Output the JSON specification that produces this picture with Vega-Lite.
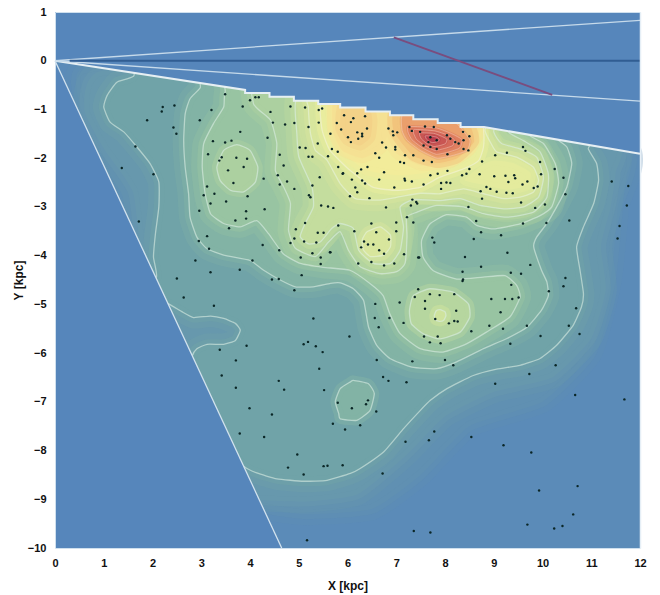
{"$schema":"https://vega.github.io/schema/vega-lite/v6.json","width":585,"height":536,"autosize":{"type":"none"},"padding":{"left":55,"top":12,"right":20,"bottom":47},"background":"#ffffff",
"config":{"view":{"stroke":null},"style":{"wide":{"strokeWidth":22,"strokeOpacity":0.3,"interpolate":"cardinal-closed","tension":0.5},"soft":{"strokeWidth":10,"strokeOpacity":0.5,"interpolate":"cardinal-closed","tension":0.5},"cont":{"strokeWidth":1.3,"strokeOpacity":0.6,"interpolate":"cardinal-closed","tension":0.5},"hot":{"strokeWidth":3,"strokeOpacity":0.5,"interpolate":"cardinal-closed","tension":0.5},"hotc":{"strokeWidth":1,"strokeOpacity":0.45,"interpolate":"cardinal-closed","tension":0.5}}},
"datasets":{
"W":[{"x":0,"y":0},{"x":4.65,"y":-10},{"x":12,"y":-10},{"x":12,"y":-1.9}],
"Lm1":[{"x":0.5,"y":-0.2},{"x":1.5,"y":-3.5},{"x":2.5,"y":-6.2},{"x":3.6,"y":-8.9},{"x":5,"y":-9.3},{"x":6.5,"y":-9.2},{"x":7.5,"y":-8.5},{"x":8.5,"y":-7.5},{"x":10,"y":-7},{"x":11,"y":-6},{"x":11.4,"y":-4.5},{"x":11.55,"y":-3},{"x":11.65,"y":-1.7},{"x":6,"y":-0.3}],
"L0":[{"x":1,"y":-0.2},{"x":0.6,"y":-1},{"x":1,"y":-1.8},{"x":1.6,"y":-2.7},{"x":1.8,"y":-4.3},{"x":2.3,"y":-6.2},{"x":3.2,"y":-7.7},{"x":3.4,"y":-8.9},{"x":5,"y":-9.05},{"x":6.2,"y":-8.9},{"x":7.2,"y":-8.1},{"x":8,"y":-7.3},{"x":9,"y":-6.8},{"x":10.2,"y":-6.5},{"x":11,"y":-5.7},{"x":11.3,"y":-4.7},{"x":11.2,"y":-3.8},{"x":11.4,"y":-3},{"x":11.5,"y":-2.3},{"x":11.4,"y":-1.6},{"x":6,"y":-0.5}],
"L1":[{"x":2.2,"y":0.2},{"x":1.61,"y":-0.32},{"x":1.27,"y":-0.44},{"x":1.07,"y":-0.71},{"x":1,"y":-0.95},{"x":1.13,"y":-1.26},{"x":1.41,"y":-1.46},{"x":1.68,"y":-1.77},{"x":1.95,"y":-2.11},{"x":2.13,"y":-2.49},{"x":2.13,"y":-3},{"x":2.06,"y":-3.55},{"x":2.02,"y":-4.03},{"x":2.08,"y":-4.44},{"x":1.7,"y":-4.7},{"x":2.33,"y":-4.99},{"x":2.6,"y":-5.15},{"x":2.84,"y":-5.27},{"x":3.19,"y":-5.24},{"x":3.46,"y":-5.29},{"x":3.7,"y":-5.39},{"x":3.8,"y":-5.53},{"x":3.7,"y":-5.74},{"x":3.46,"y":-5.82},{"x":3.12,"y":-5.82},{"x":2.91,"y":-5.91},{"x":2.81,"y":-6.07},{"x":2.7,"y":-6.6},{"x":3.2,"y":-7.6},{"x":3.87,"y":-8.32},{"x":4.14,"y":-8.46},{"x":4.55,"y":-8.58},{"x":5.1,"y":-8.63},{"x":5.58,"y":-8.61},{"x":6.06,"y":-8.47},{"x":6.26,"y":-8.37},{"x":6.74,"y":-8.03},{"x":7.15,"y":-7.55},{"x":7.49,"y":-7.18},{"x":7.7,"y":-6.97},{"x":8.04,"y":-6.73},{"x":8.58,"y":-6.46},{"x":9.06,"y":-6.33},{"x":9.54,"y":-6.25},{"x":9.95,"y":-6.11},{"x":10.29,"y":-5.84},{"x":10.63,"y":-5.43},{"x":10.8,"y":-5.05},{"x":10.84,"y":-4.78},{"x":10.77,"y":-4.3},{"x":10.7,"y":-3.82},{"x":10.84,"y":-3.41},{"x":11.05,"y":-2.93},{"x":11.15,"y":-2.46},{"x":11.11,"y":-2.11},{"x":10.94,"y":-1.81},{"x":10.7,"y":-1.2}],
"Lo":[{"x":6.12,"y":-6.56},{"x":6.43,"y":-6.63},{"x":6.55,"y":-6.83},{"x":6.46,"y":-7.18},{"x":6.19,"y":-7.38},{"x":5.85,"y":-7.35},{"x":5.82,"y":-7.24},{"x":5.75,"y":-7},{"x":5.85,"y":-6.73},{"x":6.06,"y":-6.59}],
"L2":[{"x":3.3,"y":0},{"x":2.98,"y":-0.55},{"x":2.77,"y":-0.78},{"x":2.67,"y":-1.09},{"x":2.64,"y":-1.63},{"x":2.67,"y":-2.18},{"x":2.74,"y":-2.73},{"x":2.77,"y":-3.21},{"x":2.91,"y":-3.62},{"x":3.12,"y":-3.86},{"x":3.46,"y":-3.99},{"x":4,"y":-4.1},{"x":4.28,"y":-4.3},{"x":4.62,"y":-4.5},{"x":4.93,"y":-4.64},{"x":5.3,"y":-4.64},{"x":5.65,"y":-4.57},{"x":5.85,"y":-4.56},{"x":6.12,"y":-4.68},{"x":6.33,"y":-4.92},{"x":6.43,"y":-5.46},{"x":6.6,"y":-5.84},{"x":6.87,"y":-6.11},{"x":7.32,"y":-6.29},{"x":7.83,"y":-6.32},{"x":8.24,"y":-6.18},{"x":8.79,"y":-5.91},{"x":9.27,"y":-5.7},{"x":9.68,"y":-5.47},{"x":9.98,"y":-5.12},{"x":10.12,"y":-4.82},{"x":10.09,"y":-4.54},{"x":9.98,"y":-4.3},{"x":9.82,"y":-3.82},{"x":9.88,"y":-3.62},{"x":10.09,"y":-3.34},{"x":10.29,"y":-3},{"x":10.5,"y":-2.59},{"x":10.6,"y":-2.11},{"x":10.5,"y":-1.77},{"x":10.3,"y":-1.6},{"x":10,"y":-1}],
"L3":[{"x":3.8,"y":-0.2},{"x":3.49,"y":-0.64},{"x":3.46,"y":-0.95},{"x":3.25,"y":-1.29},{"x":3.05,"y":-1.7},{"x":3.02,"y":-2.18},{"x":3.08,"y":-2.73},{"x":3.19,"y":-3.14},{"x":3.46,"y":-3.34},{"x":3.8,"y":-3.41},{"x":4.14,"y":-3.28},{"x":4.38,"y":-3.55},{"x":4.68,"y":-3.96},{"x":5.03,"y":-4.16},{"x":5.5,"y":-4.24},{"x":6.05,"y":-4.3},{"x":6.46,"y":-4.57},{"x":6.73,"y":-4.82},{"x":6.87,"y":-5.2},{"x":7.08,"y":-5.6},{"x":7.49,"y":-5.91},{"x":7.96,"y":-5.98},{"x":8.44,"y":-5.81},{"x":8.85,"y":-5.57},{"x":9.33,"y":-5.26},{"x":9.54,"y":-4.85},{"x":9.47,"y":-4.61},{"x":9.23,"y":-4.41},{"x":8.78,"y":-4.44},{"x":8.24,"y":-4.48},{"x":7.76,"y":-4.31},{"x":7.55,"y":-4.03},{"x":7.52,"y":-3.69},{"x":7.69,"y":-3.35},{"x":8.03,"y":-3.16},{"x":8.44,"y":-3.21},{"x":8.65,"y":-3.38},{"x":8.99,"y":-3.45},{"x":9.54,"y":-3.35},{"x":9.95,"y":-3.18},{"x":10.19,"y":-3},{"x":10.33,"y":-2.52},{"x":10.26,"y":-2.11},{"x":10.02,"y":-1.7},{"x":9.71,"y":-1.51},{"x":9.4,"y":-0.9}],
"L4":[{"x":4.3,"y":-0.3},{"x":4.07,"y":-0.88},{"x":4.42,"y":-1.22},{"x":4.55,"y":-1.7},{"x":4.52,"y":-2.25},{"x":4.69,"y":-2.59},{"x":4.83,"y":-2.93},{"x":4.79,"y":-3.48},{"x":4.93,"y":-3.85},{"x":5.34,"y":-4.02},{"x":5.61,"y":-3.72},{"x":5.85,"y":-3.51},{"x":6.02,"y":-3.89},{"x":6.26,"y":-4.23},{"x":6.67,"y":-4.37},{"x":7.01,"y":-4.33},{"x":7.18,"y":-4.16},{"x":7.22,"y":-3.61},{"x":7.21,"y":-3.21},{"x":7.42,"y":-3.11},{"x":7.83,"y":-2.97},{"x":8.38,"y":-3},{"x":8.79,"y":-3.14},{"x":9.27,"y":-3.21},{"x":9.81,"y":-3.11},{"x":10.09,"y":-2.8},{"x":10.12,"y":-2.32},{"x":9.95,"y":-1.87},{"x":9.61,"y":-1.64},{"x":9.3,"y":-1.46},{"x":9,"y":-0.9}],
"L4a":[{"x":3.32,"y":-2.18},{"x":3.46,"y":-1.84},{"x":3.73,"y":-1.72},{"x":4,"y":-1.84},{"x":4.16,"y":-2.18},{"x":4.11,"y":-2.49},{"x":3.87,"y":-2.69},{"x":3.6,"y":-2.66},{"x":3.39,"y":-2.46}],
"L4b":[{"x":7.27,"y":-5.13},{"x":7.35,"y":-4.82},{"x":7.69,"y":-4.68},{"x":8.17,"y":-4.75},{"x":8.48,"y":-4.99},{"x":8.51,"y":-5.26},{"x":8.31,"y":-5.57},{"x":7.9,"y":-5.71},{"x":7.55,"y":-5.6},{"x":7.31,"y":-5.4}],
"L5":[{"x":5.2,"y":-0.4},{"x":4.93,"y":-0.88},{"x":4.96,"y":-1.49},{"x":5,"y":-1.97},{"x":5.27,"y":-2.59},{"x":5.3,"y":-3},{"x":5.13,"y":-3.34},{"x":5.03,"y":-3.61},{"x":5.2,"y":-3.76},{"x":5.44,"y":-3.72},{"x":5.68,"y":-3.44},{"x":5.85,"y":-3.34},{"x":6.12,"y":-3.44},{"x":6.23,"y":-3.89},{"x":6.53,"y":-4.16},{"x":6.88,"y":-4.16},{"x":7.08,"y":-3.89},{"x":7.15,"y":-3.41},{"x":7.08,"y":-3},{"x":7.35,"y":-2.85},{"x":7.9,"y":-2.87},{"x":8.31,"y":-2.83},{"x":8.72,"y":-2.97},{"x":9.2,"y":-3.04},{"x":9.61,"y":-3},{"x":9.92,"y":-2.8},{"x":10.02,"y":-2.39},{"x":9.88,"y":-1.98},{"x":9.54,"y":-1.81},{"x":9.16,"y":-1.7},{"x":9,"y":-1.46},{"x":8.9,"y":-0.8}],
"L5b":[{"x":7.78,"y":-5.23},{"x":7.82,"y":-5.13},{"x":7.9,"y":-5.11},{"x":8,"y":-5.15},{"x":8.02,"y":-5.23},{"x":7.98,"y":-5.32},{"x":7.9,"y":-5.35},{"x":7.8,"y":-5.32}],
"L6":[{"x":5.3,"y":-0.5},{"x":5.2,"y":-0.98},{"x":5.24,"y":-1.49},{"x":5.34,"y":-1.84},{"x":5.58,"y":-2.04},{"x":5.85,"y":-2.52},{"x":6.16,"y":-2.83},{"x":6.67,"y":-2.86},{"x":7.08,"y":-2.79},{"x":7.5,"y":-2.72},{"x":7.9,"y":-2.73},{"x":8.38,"y":-2.63},{"x":8.79,"y":-2.73},{"x":9.2,"y":-2.83},{"x":9.54,"y":-2.8},{"x":9.81,"y":-2.7},{"x":9.92,"y":-2.46},{"x":9.81,"y":-2.18},{"x":9.47,"y":-1.98},{"x":9.06,"y":-1.87},{"x":8.93,"y":-1.67},{"x":8.82,"y":-1.43},{"x":8.8,"y":-0.8}],
"L6a":[{"x":6.3,"y":-3.68},{"x":6.4,"y":-3.51},{"x":6.67,"y":-3.41},{"x":6.88,"y":-3.58},{"x":6.88,"y":-3.82},{"x":6.74,"y":-3.99},{"x":6.47,"y":-4.02},{"x":6.33,"y":-3.89}],
"L6x":[{"x":8.75,"y":-2.15},{"x":8.4,"y":-2.45},{"x":8.8,"y":-2.55},{"x":9.3,"y":-2.65},{"x":9.7,"y":-2.55},{"x":9.75,"y":-2.3},{"x":9.4,"y":-2.1},{"x":9,"y":-2.05}],
"L7":[{"x":5.6,"y":-0.4},{"x":5.44,"y":-0.95},{"x":5.48,"y":-1.43},{"x":5.64,"y":-1.84},{"x":6.05,"y":-2.25},{"x":6.53,"y":-2.6},{"x":7.02,"y":-2.66},{"x":7.49,"y":-2.6},{"x":7.9,"y":-2.39},{"x":8.38,"y":-2.22},{"x":8.69,"y":-2.05},{"x":8.79,"y":-1.77},{"x":8.79,"y":-1.4},{"x":8.7,"y":-0.8}],
"L8":[{"x":5.8,"y":-0.5},{"x":5.65,"y":-0.9},{"x":5.7,"y":-1.5},{"x":5.9,"y":-1.9},{"x":6.4,"y":-2.25},{"x":7,"y":-2.35},{"x":7.6,"y":-2.3},{"x":8.2,"y":-2.05},{"x":8.55,"y":-1.8},{"x":8.65,"y":-1.4},{"x":8.6,"y":-0.8}],
"A0":[{"x":5.75,"y":-0.7},{"x":5.7,"y":-1.45},{"x":5.9,"y":-1.85},{"x":6.3,"y":-2},{"x":6.7,"y":-1.8},{"x":6.85,"y":-1.4},{"x":6.8,"y":-0.7}],
"B0":[{"x":6.85,"y":-0.9},{"x":6.8,"y":-1.5},{"x":7,"y":-1.9},{"x":7.5,"y":-2.15},{"x":8.1,"y":-2.1},{"x":8.5,"y":-1.85},{"x":8.7,"y":-1.5},{"x":8.65,"y":-0.9}],
"A1":[{"x":5.91,"y":-0.9},{"x":5.85,"y":-1.37},{"x":5.99,"y":-1.63},{"x":6.26,"y":-1.74},{"x":6.47,"y":-1.57},{"x":6.51,"y":-1.22},{"x":6.42,"y":-0.9}],
"H0":[{"x":7,"y":-1},{"x":6.95,"y":-1.45},{"x":7.35,"y":-1.95},{"x":7.84,"y":-2.1},{"x":8.25,"y":-2},{"x":8.6,"y":-1.65},{"x":8.4,"y":-1.2}],
"H1":[{"x":7.14,"y":-1.1},{"x":7.12,"y":-1.43},{"x":7.22,"y":-1.63},{"x":7.49,"y":-1.84},{"x":7.84,"y":-2},{"x":8.17,"y":-1.94},{"x":8.45,"y":-1.84},{"x":8.51,"y":-1.63},{"x":8.25,"y":-1.3},{"x":7.84,"y":-1.15}],
"H2":[{"x":7.26,"y":-1.35},{"x":7.82,"y":-1.38},{"x":8.14,"y":-1.5},{"x":8.35,"y":-1.62},{"x":8.3,"y":-1.79},{"x":8.08,"y":-1.87},{"x":7.82,"y":-1.92},{"x":7.54,"y":-1.79},{"x":7.32,"y":-1.62},{"x":7.24,"y":-1.46}],
"H3":[{"x":7.37,"y":-1.41},{"x":7.79,"y":-1.44},{"x":8.04,"y":-1.52},{"x":8.19,"y":-1.62},{"x":8.16,"y":-1.74},{"x":7.99,"y":-1.8},{"x":7.79,"y":-1.84},{"x":7.58,"y":-1.74},{"x":7.42,"y":-1.62},{"x":7.36,"y":-1.5}],
"H4":[{"x":7.49,"y":-1.48},{"x":7.77,"y":-1.49},{"x":7.93,"y":-1.55},{"x":8.04,"y":-1.61},{"x":8.01,"y":-1.7},{"x":7.9,"y":-1.74},{"x":7.77,"y":-1.76},{"x":7.63,"y":-1.7},{"x":7.52,"y":-1.61},{"x":7.48,"y":-1.53}],
"H5":[{"x":7.6,"y":-1.54},{"x":7.74,"y":-1.55},{"x":7.83,"y":-1.57},{"x":7.88,"y":-1.61},{"x":7.87,"y":-1.65},{"x":7.81,"y":-1.67},{"x":7.74,"y":-1.68},{"x":7.67,"y":-1.65},{"x":7.62,"y":-1.61},{"x":7.6,"y":-1.57}],
"maskL":[{"x":0,"y":0},{"x":4.65,"y":-10},{"x":0,"y":-10}],
"maskT":[{"x":0,"y":0},{"x":3.9,"y":-0.6},{"x":3.9,"y":-0.66},{"x":4.4,"y":-0.66},{"x":4.4,"y":-0.74},{"x":4.9,"y":-0.74},{"x":4.9,"y":-0.82},{"x":5.4,"y":-0.82},{"x":5.4,"y":-0.89},{"x":5.85,"y":-0.89},{"x":5.85,"y":-0.96},{"x":6.37,"y":-0.96},{"x":6.37,"y":-1.04},{"x":6.87,"y":-1.04},{"x":6.87,"y":-1.12},{"x":7.35,"y":-1.12},{"x":7.35,"y":-1.2},{"x":7.85,"y":-1.2},{"x":7.85,"y":-1.28},{"x":8.32,"y":-1.28},{"x":8.32,"y":-1.36},{"x":8.8,"y":-1.36},{"x":12,"y":-1.91},{"x":12,"y":1},{"x":0,"y":1}],
"edge":[{"x":0,"y":0},{"x":3.9,"y":-0.6},{"x":3.9,"y":-0.66},{"x":4.4,"y":-0.66},{"x":4.4,"y":-0.74},{"x":4.9,"y":-0.74},{"x":4.9,"y":-0.82},{"x":5.4,"y":-0.82},{"x":5.4,"y":-0.89},{"x":5.85,"y":-0.89},{"x":5.85,"y":-0.96},{"x":6.37,"y":-0.96},{"x":6.37,"y":-1.04},{"x":6.87,"y":-1.04},{"x":6.87,"y":-1.12},{"x":7.35,"y":-1.12},{"x":7.35,"y":-1.2},{"x":7.85,"y":-1.2},{"x":7.85,"y":-1.28},{"x":8.32,"y":-1.28},{"x":8.32,"y":-1.36},{"x":8.8,"y":-1.36},{"x":12,"y":-1.91}],
"wedgeL":[{"x":0,"y":0},{"x":4.65,"y":-10}],
"up":[{"x":0,"y":0},{"x":12,"y":0.83}],
"down":[{"x":0,"y":0},{"x":12,"y":-0.83}],
"mid":[{"x":0.3,"y":0},{"x":12,"y":0}],
"red":[{"x":6.95,"y":0.48},{"x":10.2,"y":-0.7}],
"tx":[{"x":0},{"x":1},{"x":2},{"x":3},{"x":4},{"x":5},{"x":6},{"x":7},{"x":8},{"x":9},{"x":10},{"x":11},{"x":12}],
"ty":[{"y":-10},{"y":-9},{"y":-8},{"y":-7},{"y":-6},{"y":-5},{"y":-4},{"y":-3},{"y":-2},{"y":-1},{"y":0},{"y":1}],
"stars":[{"x":2.21,"y":-0.95},{"x":2.45,"y":-0.92},{"x":2.19,"y":-1.04},{"x":1.89,"y":-1.22},{"x":3.49,"y":-0.69},{"x":3.21,"y":-1.01},{"x":2.97,"y":-1.22},{"x":3.85,"y":-0.94},{"x":4,"y":-0.81},{"x":4.11,"y":-0.75},{"x":4.18,"y":-0.75},{"x":2.43,"y":-1.37},{"x":2.49,"y":-1.5},{"x":1.65,"y":-1.76},{"x":1.37,"y":-2.2},{"x":2.02,"y":-2.33},{"x":1.72,"y":-3.3},{"x":3.8,"y":-1.46},{"x":3.24,"y":-1.65},{"x":3.49,"y":-1.68},{"x":3.62,"y":-1.64},{"x":3.14,"y":-1.92},{"x":3.42,"y":-1.98},{"x":3.37,"y":-2.05},{"x":3.72,"y":-1.99},{"x":3.94,"y":-2.01},{"x":3.87,"y":-2.18},{"x":3.55,"y":-2.25},{"x":3.66,"y":-2.51},{"x":3.12,"y":-2.58},{"x":3.27,"y":-2.73},{"x":3.05,"y":-2.76},{"x":3.51,"y":-2.89},{"x":3.95,"y":-2.78},{"x":3.19,"y":-2.93},{"x":2.96,"y":-3.08},{"x":3.92,"y":-3.09},{"x":4.3,"y":-3.05},{"x":3.92,"y":-3.24},{"x":3.7,"y":-3.28},{"x":3.57,"y":-3.44},{"x":3.12,"y":-3.6},{"x":2.95,"y":-3.7},{"x":3.16,"y":-3.86},{"x":4.26,"y":-3.78},{"x":4.6,"y":-3.89},{"x":2.88,"y":-4.1},{"x":4.05,"y":-4.1},{"x":3.79,"y":-4.29},{"x":3.19,"y":-4.34},{"x":2.5,"y":-4.47},{"x":4.45,"y":-4.49},{"x":4.59,"y":-4.48},{"x":5.06,"y":-4.4},{"x":4.42,"y":-1.05},{"x":4.47,"y":-1.27},{"x":4.72,"y":-1.31},{"x":4.91,"y":-1.28},{"x":4.83,"y":-0.94},{"x":5.13,"y":-0.96},{"x":5.41,"y":-1.01},{"x":5.48,"y":-0.98},{"x":5.2,"y":-1.36},{"x":5.41,"y":-1.27},{"x":4.36,"y":-1.58},{"x":4.61,"y":-1.93},{"x":4.69,"y":-2.15},{"x":4.57,"y":-2.35},{"x":4.28,"y":-2.42},{"x":4.61,"y":-2.54},{"x":4.76,"y":-2.48},{"x":4.91,"y":-2.63},{"x":5.02,"y":-1.78},{"x":5.14,"y":-1.79},{"x":5.2,"y":-1.97},{"x":5.28,"y":-1.97},{"x":5.6,"y":-1.96},{"x":5.39,"y":-1.7},{"x":5.65,"y":-1.5},{"x":5.68,"y":-1.81},{"x":5.8,"y":-1.87},{"x":5.81,"y":-2.18},{"x":5.43,"y":-2.39},{"x":5.9,"y":-2.32},{"x":5.28,"y":-2.56},{"x":5.21,"y":-2.76},{"x":5.24,"y":-2.8},{"x":5.46,"y":-2.97},{"x":5.6,"y":-2.99},{"x":5.71,"y":-3.02},{"x":5.13,"y":-3.33},{"x":4.94,"y":-3.46},{"x":5.39,"y":-3.53},{"x":5.51,"y":-3.53},{"x":5.81,"y":-3.38},{"x":4.91,"y":-3.65},{"x":4.83,"y":-3.74},{"x":5.11,"y":-3.71},{"x":5.36,"y":-3.73},{"x":5.28,"y":-3.95},{"x":5.65,"y":-3.93},{"x":5.04,"y":-4.04},{"x":5.45,"y":-4.04},{"x":5.45,"y":-4.17},{"x":5.93,"y":-1.12},{"x":6.12,"y":-1.18},{"x":6.36,"y":-1.14},{"x":5.78,"y":-1.28},{"x":6.07,"y":-1.26},{"x":6.4,"y":-1.39},{"x":5.87,"y":-1.41},{"x":6.2,"y":-1.47},{"x":6.3,"y":-1.5},{"x":6.3,"y":-1.55},{"x":6.01,"y":-1.57},{"x":6.22,"y":-1.6},{"x":6.07,"y":-1.67},{"x":6.84,"y":-1.39},{"x":6.93,"y":-1.45},{"x":7.02,"y":-1.47},{"x":6.94,"y":-1.53},{"x":6.71,"y":-1.68},{"x":6.79,"y":-1.78},{"x":6.98,"y":-1.82},{"x":6.57,"y":-1.9},{"x":6.65,"y":-1.99},{"x":7.18,"y":-1.94},{"x":7.08,"y":-2.08},{"x":7.16,"y":-2.1},{"x":7.35,"y":-1.94},{"x":5.91,"y":-2.31},{"x":6.2,"y":-2.31},{"x":6.28,"y":-2.23},{"x":6.41,"y":-2.18},{"x":6.75,"y":-2.29},{"x":6.09,"y":-2.44},{"x":6.3,"y":-2.46},{"x":6.36,"y":-2.52},{"x":6.65,"y":-2.44},{"x":7.17,"y":-2.42},{"x":7.32,"y":-2.48},{"x":6.16,"y":-2.6},{"x":6.2,"y":-2.7},{"x":6.05,"y":-2.78},{"x":6.45,"y":-2.82},{"x":6.96,"y":-2.6},{"x":7.33,"y":-2.85},{"x":7.3,"y":-2.97},{"x":6.79,"y":-3.01},{"x":7.43,"y":-2.93},{"x":6.14,"y":-3.5},{"x":6.49,"y":-3.34},{"x":6.59,"y":-3.52},{"x":7,"y":-3.32},{"x":7.22,"y":-3.21},{"x":7.35,"y":-3.32},{"x":7,"y":-3.5},{"x":6.85,"y":-3.67},{"x":6.34,"y":-3.71},{"x":6.28,"y":-3.83},{"x":6.42,"y":-3.77},{"x":6.53,"y":-3.77},{"x":6.65,"y":-3.89},{"x":6.75,"y":-3.96},{"x":6.22,"y":-4.16},{"x":6.49,"y":-4.13},{"x":6.75,"y":-4.2},{"x":6.96,"y":-4.16},{"x":7.16,"y":-3.97},{"x":7.45,"y":-4.04},{"x":5.64,"y":-3.93},{"x":7.27,"y":-1.36},{"x":7.32,"y":-1.44},{"x":7.59,"y":-1.35},{"x":7.77,"y":-1.36},{"x":7.49,"y":-1.46},{"x":7.7,"y":-1.57},{"x":7.83,"y":-1.63},{"x":7.66,"y":-1.67},{"x":7.56,"y":-1.74},{"x":7.7,"y":-1.77},{"x":7.83,"y":-1.81},{"x":8.04,"y":-1.53},{"x":8.11,"y":-1.6},{"x":8.21,"y":-1.67},{"x":8.28,"y":-1.7},{"x":8.37,"y":-1.46},{"x":8.5,"y":-1.55},{"x":8.38,"y":-1.63},{"x":8.38,"y":-1.81},{"x":8.48,"y":-1.84},{"x":8.05,"y":-1.92},{"x":7.73,"y":-2.08},{"x":7.56,"y":-2.05},{"x":8.76,"y":-2.07},{"x":8.05,"y":-2.26},{"x":7.85,"y":-2.32},{"x":7.7,"y":-2.35},{"x":8.35,"y":-2.35},{"x":8.44,"y":-2.32},{"x":8.5,"y":-2.22},{"x":8.71,"y":-2.33},{"x":9.01,"y":-2.37},{"x":9.24,"y":-2.36},{"x":9.42,"y":-2.35},{"x":9.44,"y":-2.41},{"x":9.3,"y":-2.49},{"x":9.59,"y":-2.54},{"x":9.69,"y":-2.48},{"x":9.82,"y":-2.61},{"x":9.9,"y":-2.58},{"x":9.97,"y":-2.33},{"x":8.85,"y":-2.59},{"x":8.93,"y":-2.63},{"x":8.73,"y":-2.68},{"x":9.06,"y":-2.69},{"x":9.26,"y":-2.71},{"x":9.39,"y":-2.72},{"x":8.76,"y":-2.83},{"x":9.56,"y":-2.91},{"x":9.85,"y":-3.02},{"x":10.05,"y":-2.95},{"x":8.48,"y":-3},{"x":9.03,"y":-1.94},{"x":9.27,"y":-1.89},{"x":9.6,"y":-1.77},{"x":9.65,"y":-1.85},{"x":9.95,"y":-2.08},{"x":10.25,"y":-2.22},{"x":10.43,"y":-2.4},{"x":10.47,"y":-2.74},{"x":10.08,"y":-3.33},{"x":10.55,"y":-3.28},{"x":9.6,"y":-3.34},{"x":8.64,"y":-3.29},{"x":8.74,"y":-3.52},{"x":8.59,"y":-3.66},{"x":9.15,"y":-3.58},{"x":7.74,"y":-3.63},{"x":7.78,"y":-3.73},{"x":9.28,"y":-3.94},{"x":8.41,"y":-4.03},{"x":7.47,"y":-4.04},{"x":9.75,"y":-4.19},{"x":9.35,"y":-4.35},{"x":9.56,"y":-4.37},{"x":8.74,"y":-4.23},{"x":8.36,"y":-4.33},{"x":10.47,"y":-4.46},{"x":8.37,"y":-4.49},{"x":11.42,"y":-2.48},{"x":11.76,"y":-2.57},{"x":11.73,"y":-2.97},{"x":11.58,"y":-3.39},{"x":11.54,"y":-3.65},{"x":6.98,"y":-1.77},{"x":7.18,"y":-2.46},{"x":7.56,"y":-2.54},{"x":7.92,"y":-2.51},{"x":8.03,"y":-2.5},{"x":8.11,"y":-2.51},{"x":7.92,"y":-2.63},{"x":7.41,"y":-2.9},{"x":2.64,"y":-4.86},{"x":3.26,"y":-5.03},{"x":3.38,"y":-5.93},{"x":3.93,"y":-5.85},{"x":3.71,"y":-6.15},{"x":3.42,"y":-6.46},{"x":3.71,"y":-6.71},{"x":3.99,"y":-7.13},{"x":4.45,"y":-7.26},{"x":4.59,"y":-6.57},{"x":4.7,"y":-6.75},{"x":3.79,"y":-7.65},{"x":4.29,"y":-7.72},{"x":4.97,"y":-8.08},{"x":4.78,"y":-8.35},{"x":5.1,"y":-8.49},{"x":5.51,"y":-8.32},{"x":5.59,"y":-8.31},{"x":5.9,"y":-8.3},{"x":5.17,"y":-9.84},{"x":5.3,"y":-5.29},{"x":5.1,"y":-5.82},{"x":5.19,"y":-5.77},{"x":5.35,"y":-5.86},{"x":5.49,"y":-5.98},{"x":6.04,"y":-5.66},{"x":5.42,"y":-6.32},{"x":5.52,"y":-6.76},{"x":5.8,"y":-7.02},{"x":5.7,"y":-7.45},{"x":5.95,"y":-7.57},{"x":4.91,"y":-4.71},{"x":6.57,"y":-4.99},{"x":6.56,"y":-5.28},{"x":6.64,"y":-5.47},{"x":6.6,"y":-6.14},{"x":6.86,"y":-5.28},{"x":7.07,"y":-4.96},{"x":7.15,"y":-5.38},{"x":7.33,"y":-6.17},{"x":6.73,"y":-6.49},{"x":6.84,"y":-6.57},{"x":7.21,"y":-6.6},{"x":6.09,"y":-7.13},{"x":6.38,"y":-7.05},{"x":6.42,"y":-6.97},{"x":6.59,"y":-7.2},{"x":6.26,"y":-7.48},{"x":6.72,"y":-8.47},{"x":7.19,"y":-7.82},{"x":7.67,"y":-7.79},{"x":7.78,"y":-7.61},{"x":8.54,"y":-7.72},{"x":9.2,"y":-7.89},{"x":9.77,"y":-8.04},{"x":9.93,"y":-8.82},{"x":10.72,"y":-8.73},{"x":10.63,"y":-9.31},{"x":10.41,"y":-9.55},{"x":10.24,"y":-9.6},{"x":9.69,"y":-9.52},{"x":7.7,"y":-9.68},{"x":7.36,"y":-9.65},{"x":10.67,"y":-6.86},{"x":11.68,"y":-6.95},{"x":9.03,"y":-6.63},{"x":9.73,"y":-6.43},{"x":10.27,"y":-6.25},{"x":8,"y":-6.14},{"x":8.17,"y":-6.25},{"x":7.45,"y":-4.69},{"x":7.38,"y":-4.85},{"x":7.69,"y":-4.79},{"x":7.89,"y":-4.81},{"x":8.19,"y":-4.79},{"x":7.59,"y":-4.93},{"x":7.59,"y":-5.09},{"x":8.23,"y":-5.13},{"x":7.8,"y":-5.3},{"x":8.08,"y":-5.39},{"x":8.19,"y":-5.34},{"x":8.26,"y":-5.35},{"x":8.54,"y":-5.55},{"x":7.57,"y":-5.66},{"x":7.85,"y":-5.66},{"x":7.69,"y":-5.78},{"x":7.91,"y":-5.8},{"x":8.95,"y":-4.89},{"x":9.23,"y":-4.89},{"x":9.38,"y":-4.89},{"x":9.51,"y":-4.86},{"x":9.14,"y":-5.16},{"x":8.91,"y":-5.44},{"x":9.19,"y":-5.5},{"x":9.68,"y":-5.44},{"x":9.34,"y":-5.81},{"x":9.96,"y":-5.65},{"x":9.36,"y":-4.6},{"x":8.36,"y":-4.52},{"x":10.13,"y":-4.73},{"x":10.43,"y":-4.63},{"x":10.69,"y":-5.08},{"x":10.54,"y":-5.44},{"x":10.76,"y":-5.61}]
},
"encoding":{"x":{"field":"x","type":"quantitative","scale":{"domain":[0,12]},"axis":null},"y":{"field":"y","type":"quantitative","scale":{"domain":[-10,1]},"axis":null},"order":{"value":null}},
"layer":[
{"data":{"values":[{"x":0,"y":-10,"x2":12,"y2":1}]},"mark":{"type":"rect","fill":"#5686bb"},"encoding":{"x2":{"field":"x2"},"y2":{"field":"y2"},"order":null}},
{"data":{"name":"W"},"mark":{"type":"line","interpolate":"linear-closed","fill":"#5b8bb8","strokeWidth":0}},
{"data":{"name":"Lm1"},"mark":{"type":"line","style":"wide","stroke":"#6090b2"}},
{"data":{"name":"Lm1"},"mark":{"type":"line","style":"soft","stroke":"#6090b2","fill":"#6090b2"}},
{"data":{"name":"L0"},"mark":{"type":"line","style":"wide","stroke":"#6798ad"}},
{"data":{"name":"L0"},"mark":{"type":"line","style":"soft","stroke":"#6798ad","fill":"#6798ad"}},
{"data":{"name":"L1"},"mark":{"type":"line","style":"wide","stroke":"#70a3a8"}},
{"data":{"name":"L1"},"mark":{"type":"line","style":"soft","stroke":"#70a3a8","fill":"#70a3a8"}},
{"data":{"name":"Lo"},"mark":{"type":"line","style":"soft","stroke":"#82b3a5","fill":"#82b3a5"}},
{"data":{"name":"L2"},"mark":{"type":"line","style":"wide","stroke":"#82b3a5"}},
{"data":{"name":"L2"},"mark":{"type":"line","style":"soft","stroke":"#82b3a5","fill":"#82b3a5"}},
{"data":{"name":"L3"},"mark":{"type":"line","style":"wide","stroke":"#98c4a2"}},
{"data":{"name":"L3"},"mark":{"type":"line","style":"soft","stroke":"#98c4a2","fill":"#98c4a2"}},
{"data":{"name":"L4"},"mark":{"type":"line","style":"wide","stroke":"#acd0a0"}},
{"data":{"name":"L4"},"mark":{"type":"line","style":"soft","stroke":"#acd0a0","fill":"#acd0a0"}},
{"data":{"name":"L4a"},"mark":{"type":"line","style":"soft","stroke":"#acd0a0","fill":"#acd0a0"}},
{"data":{"name":"L4b"},"mark":{"type":"line","style":"soft","stroke":"#b6d69f","fill":"#b6d69f"}},
{"data":{"name":"L5"},"mark":{"type":"line","style":"wide","stroke":"#c4dd9e"}},
{"data":{"name":"L5"},"mark":{"type":"line","style":"soft","stroke":"#c4dd9e","fill":"#c4dd9e"}},
{"data":{"name":"L5b"},"mark":{"type":"line","style":"soft","stroke":"#cfe39d","fill":"#cfe39d"}},
{"data":{"name":"L6"},"mark":{"type":"line","style":"wide","stroke":"#d8e69d"}},
{"data":{"name":"L6"},"mark":{"type":"line","style":"soft","stroke":"#d8e69d","fill":"#d8e69d"}},
{"data":{"name":"L6a"},"mark":{"type":"line","style":"soft","stroke":"#d8e69d","fill":"#d8e69d"}},
{"data":{"name":"L6x"},"mark":{"type":"line","style":"soft","stroke":"#e4eb9d","fill":"#e4eb9d"}},
{"data":{"name":"L7"},"mark":{"type":"line","style":"soft","stroke":"#e9ed9e","fill":"#e9ed9e"}},
{"data":{"name":"L8"},"mark":{"type":"line","style":"soft","stroke":"#f2ec9a","fill":"#f2ec9a"}},
{"data":{"name":"A0"},"mark":{"type":"line","style":"soft","stroke":"#f5e193","fill":"#f5e193"}},
{"data":{"name":"B0"},"mark":{"type":"line","style":"soft","stroke":"#f5e193","fill":"#f5e193"}},
{"data":{"name":"A1"},"mark":{"type":"line","style":"soft","stroke":"#f3d288","fill":"#f3d288"}},
{"data":{"name":"H0"},"mark":{"type":"line","style":"soft","stroke":"#f2c47c","fill":"#f2c47c"}},
{"data":{"name":"H1"},"mark":{"type":"line","style":"hot","stroke":"#ea9f6c","fill":"#ea9f6c"}},
{"data":{"name":"H2"},"mark":{"type":"line","style":"hot","stroke":"#df8060","fill":"#df8060"}},
{"data":{"name":"H3"},"mark":{"type":"line","style":"hot","stroke":"#d56a5a","fill":"#d56a5a"}},
{"data":{"name":"H4"},"mark":{"type":"line","style":"hot","stroke":"#c95653","fill":"#c95653"}},
{"data":{"name":"H5"},"mark":{"type":"line","style":"hot","stroke":"#b83e4c","fill":"#b83e4c"}},
{"data":{"name":"L1"},"mark":{"type":"line","style":"cont","stroke":"#dcefe4"}},
{"data":{"name":"Lo"},"mark":{"type":"line","style":"cont","stroke":"#dcefe4"}},
{"data":{"name":"L2"},"mark":{"type":"line","style":"cont","stroke":"#dcefe4"}},
{"data":{"name":"L3"},"mark":{"type":"line","style":"cont","stroke":"#dcefe4"}},
{"data":{"name":"L4"},"mark":{"type":"line","style":"cont","stroke":"#dcefe4"}},
{"data":{"name":"L4a"},"mark":{"type":"line","style":"cont","stroke":"#dcefe4"}},
{"data":{"name":"L4b"},"mark":{"type":"line","style":"cont","stroke":"#dcefe4"}},
{"data":{"name":"L5"},"mark":{"type":"line","style":"cont","stroke":"#dcefe4"}},
{"data":{"name":"L5b"},"mark":{"type":"line","style":"cont","stroke":"#dcefe4"}},
{"data":{"name":"L6"},"mark":{"type":"line","style":"cont","stroke":"#e8f3dc"}},
{"data":{"name":"L6a"},"mark":{"type":"line","style":"cont","stroke":"#e8f3dc"}},
{"data":{"name":"L7"},"mark":{"type":"line","style":"cont","stroke":"#f4f4d8"}},
{"data":{"name":"H1"},"mark":{"type":"line","style":"hotc","stroke":"#f6d0c0"}},
{"data":{"name":"H2"},"mark":{"type":"line","style":"hotc","stroke":"#f6d0c0"}},
{"data":{"name":"H3"},"mark":{"type":"line","style":"hotc","stroke":"#f6d0c0"}},
{"data":{"name":"H4"},"mark":{"type":"line","style":"hotc","stroke":"#f6d0c0"}},
{"data":{"name":"H5"},"mark":{"type":"line","style":"hotc","stroke":"#f6d0c0"}},
{"data":{"name":"maskL"},"mark":{"type":"line","interpolate":"linear-closed","fill":"#5686bb","strokeWidth":0}},
{"data":{"name":"maskT"},"mark":{"type":"line","interpolate":"linear-closed","fill":"#5686bb","strokeWidth":0}},
{"data":{"name":"edge"},"mark":{"type":"line","stroke":"#e6eff3","strokeWidth":2}},
{"data":{"name":"wedgeL"},"mark":{"type":"line","stroke":"#d3e3ee","strokeWidth":1.3}},
{"data":{"name":"up"},"mark":{"type":"line","stroke":"#c6daea","strokeWidth":1.3}},
{"data":{"name":"down"},"mark":{"type":"line","stroke":"#c6daea","strokeWidth":1.3}},
{"data":{"name":"mid"},"mark":{"type":"line","stroke":"#315d92","strokeWidth":2}},
{"data":{"name":"red"},"mark":{"type":"line","stroke":"#7a4d7e","strokeWidth":2}},
{"data":{"name":"stars"},"mark":{"type":"circle","size":6,"color":"#0a2626","opacity":1},"encoding":{"order":null}},
{"data":{"name":"tx"},"mark":{"type":"tick","orient":"vertical","size":13,"thickness":1.5,"color":"#ffffff","opacity":1},"encoding":{"y":{"datum":-10},"order":null}},
{"data":{"name":"tx"},"mark":{"type":"tick","orient":"vertical","size":13,"thickness":1.5,"color":"#ffffff","opacity":1},"encoding":{"y":{"datum":1},"order":null}},
{"data":{"name":"ty"},"mark":{"type":"tick","orient":"horizontal","size":13,"thickness":1.5,"color":"#ffffff","opacity":1},"encoding":{"x":{"datum":0},"order":null}},
{"data":{"name":"ty"},"mark":{"type":"tick","orient":"horizontal","size":13,"thickness":1.5,"color":"#ffffff","opacity":1},"encoding":{"x":{"datum":12},"order":null}},
{"data":{"name":"wedgeL"},"mark":{"type":"line","strokeWidth":0},"encoding":{"x":{"field":"x","type":"quantitative","axis":{"orient":"bottom","values":[0,1,2,3,4,5,6,7,8,9,10,11,12],"title":"X [kpc]","grid":false,"domainColor":"#cfe0ee","tickSize":0,"labelFont":"Liberation Sans","labelFontWeight":"bold","labelFontSize":11,"labelColor":"#111","labelPadding":9,"titleFont":"Liberation Sans","titleFontWeight":"bold","titleFontSize":12,"titleColor":"#111","titlePadding":12,"labelFlush":false,"zindex":1}},"y":{"field":"y","type":"quantitative","axis":{"orient":"left","values":[-10,-9,-8,-7,-6,-5,-4,-3,-2,-1,0,1],"title":"Y [kpc]","grid":false,"domainColor":"#cfe0ee","tickSize":0,"labelFont":"Liberation Sans","labelFontWeight":"bold","labelFontSize":11,"labelColor":"#111","labelPadding":9,"titleFont":"Liberation Sans","titleFontWeight":"bold","titleFontSize":12,"titleColor":"#111","titleX":-30,"zindex":1}}}},
{"data":{"name":"wedgeL"},"mark":{"type":"line","strokeWidth":0},"encoding":{"x":{"field":"x","type":"quantitative","axis":{"orient":"top","values":[0,1,2,3,4,5,6,7,8,9,10,11,12],"title":null,"labels":false,"grid":false,"domainColor":"#cfe0ee","tickSize":0,"zindex":1}},"y":{"field":"y","type":"quantitative","axis":{"orient":"right","values":[-10,-9,-8,-7,-6,-5,-4,-3,-2,-1,0,1],"title":null,"labels":false,"grid":false,"domainColor":"#e6eff6","tickSize":0,"domainWidth":1.5,"zindex":1}}}}
],
"resolve":{"axis":{"x":"independent","y":"independent"}}}
